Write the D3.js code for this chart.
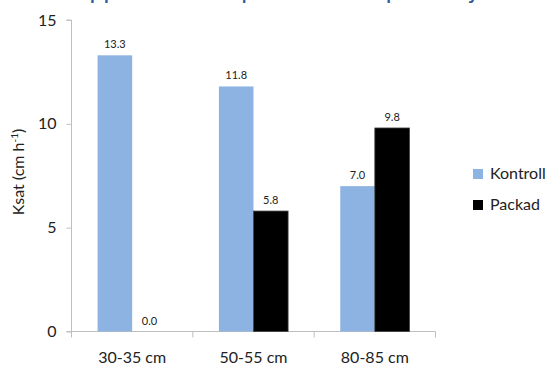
<!DOCTYPE html>
<html>
<head>
<meta charset="utf-8">
<script src="https://cdn.jsdelivr.net/npm/d3@7"></script>
<style>
  html, body { margin: 0; padding: 0; background: #fff; }
  svg { display: block; font-family: Lato, "Open Sans", sans-serif; }
</style>
</head>
<body>
<svg id="chart" width="555" height="367"></svg>
<script>
const titleText = "Uppmätt Ksat i packad och opackad jord";
const categories = ["30-35 cm", "50-55 cm", "80-85 cm"];
const seriesNames = ["Kontroll", "Packad"];
const kontroll = [13.3, 11.8, 7.0];
const packad = [0.0, 5.8, 9.8];
const yTicks = [0, 5, 10, 15];
const colors = ["#8DB3E2", "#000000"];

const svg = d3.select("#chart");
const margin = { left: 71.5, right: 119.5, top: 20, bottom: 35.5 };
const W = 555, H = 367;

const x0 = d3.scaleBand().domain(categories).range([margin.left, W - margin.right]).paddingInner(0.43).paddingOuter(0.215);
const x1 = d3.scaleBand().domain(seriesNames).range([0, x0.bandwidth()]);
const y = d3.scaleLinear().domain([0, 15]).range([H - margin.bottom, margin.top]);

// title (cropped at top, as in the reference)
svg.append("text").attr("x", 292).attr("y", -1).attr("text-anchor", "middle")
  .attr("fill", "#2E5C9A").attr("font-size", 25).text(titleText);

// y axis
const yAxis = d3.axisLeft(y).tickValues(yTicks).tickSize(5).tickPadding(10).tickFormat(d3.format("d"));
const gy = svg.append("g").attr("transform", `translate(${margin.left},0)`).call(yAxis);
gy.select(".domain").attr("stroke", "#BFBFBF").attr("d", `M-5,${y(15)}H0V${y(0)}`);
gy.selectAll(".tick line").attr("stroke", "#BFBFBF");
gy.selectAll(".tick text").attr("font-size", 16).attr("fill", "#222").attr("font-family", "Lato, sans-serif");

// x axis
const gx = svg.append("g").attr("transform", `translate(0,${y(0)})`);
gx.append("line").attr("x1", margin.left - 5).attr("x2", W - margin.right).attr("stroke", "#BFBFBF");
const bounds = categories.map(c => x0(c) - x0.step() * x0.paddingInner() / 2);
bounds.push(W - margin.right);
bounds[0] = margin.left;
gx.selectAll("line.tk").data(bounds).join("line").attr("class", "tk")
  .attr("x1", d => d).attr("x2", d => d).attr("y1", 0).attr("y2", 6).attr("stroke", "#BFBFBF");
gx.selectAll("text").data(categories).join("text")
  .attr("x", d => x0(d) + x0.bandwidth() / 2).attr("y", 31)
  .attr("text-anchor", "middle").attr("font-size", 16).attr("fill", "#222").text(d => d);

// y label
svg.append("text").attr("transform", `translate(24,172) rotate(-90)`).attr("text-anchor", "middle")
  .attr("font-size", 16).attr("fill", "#222")
  .call(t => { t.append("tspan").text("Ksat (cm h"); t.append("tspan").attr("baseline-shift", "super").attr("font-size", 10).text("-1"); t.append("tspan").text(")"); });

// bars
const rows = categories.map((c, i) => ({ cat: c, vals: [kontroll[i], packad[i]] }));
const groups = svg.selectAll("g.grp").data(rows).join("g").attr("class", "grp")
  .attr("transform", d => `translate(${x0(d.cat)},0)`);
groups.selectAll("rect").data(d => d.vals.map((v, j) => ({ v, s: seriesNames[j], j })))
  .join("rect")
  .attr("x", d => x1(d.s)).attr("width", x1.bandwidth())
  .attr("y", d => y(d.v)).attr("height", d => y(0) - y(d.v))
  .attr("fill", d => colors[d.j])
  .attr("stroke", d => d.j === 1 ? "#404040" : "none").attr("stroke-width", 0.8);
groups.selectAll("text").data(d => d.vals.map((v, j) => ({ v, s: seriesNames[j] })))
  .join("text")
  .attr("x", d => x1(d.s) + x1.bandwidth() / 2).attr("y", d => y(d.v) - 7)
  .attr("text-anchor", "middle").attr("font-size", 11).attr("fill", "#222")
  .text(d => d3.format(".1f")(d.v));

// legend
const lg = svg.append("g").attr("transform", "translate(473,169)");
const li = lg.selectAll("g").data(seriesNames).join("g").attr("transform", (d, i) => `translate(0,${i * 31})`);
li.append("rect").attr("width", 10).attr("height", 10).attr("fill", (d, i) => colors[i]);
li.append("text").attr("x", 17).attr("y", 10).attr("font-size", 16).attr("fill", "#222").text(d => d);
</script>
</body>
</html>
